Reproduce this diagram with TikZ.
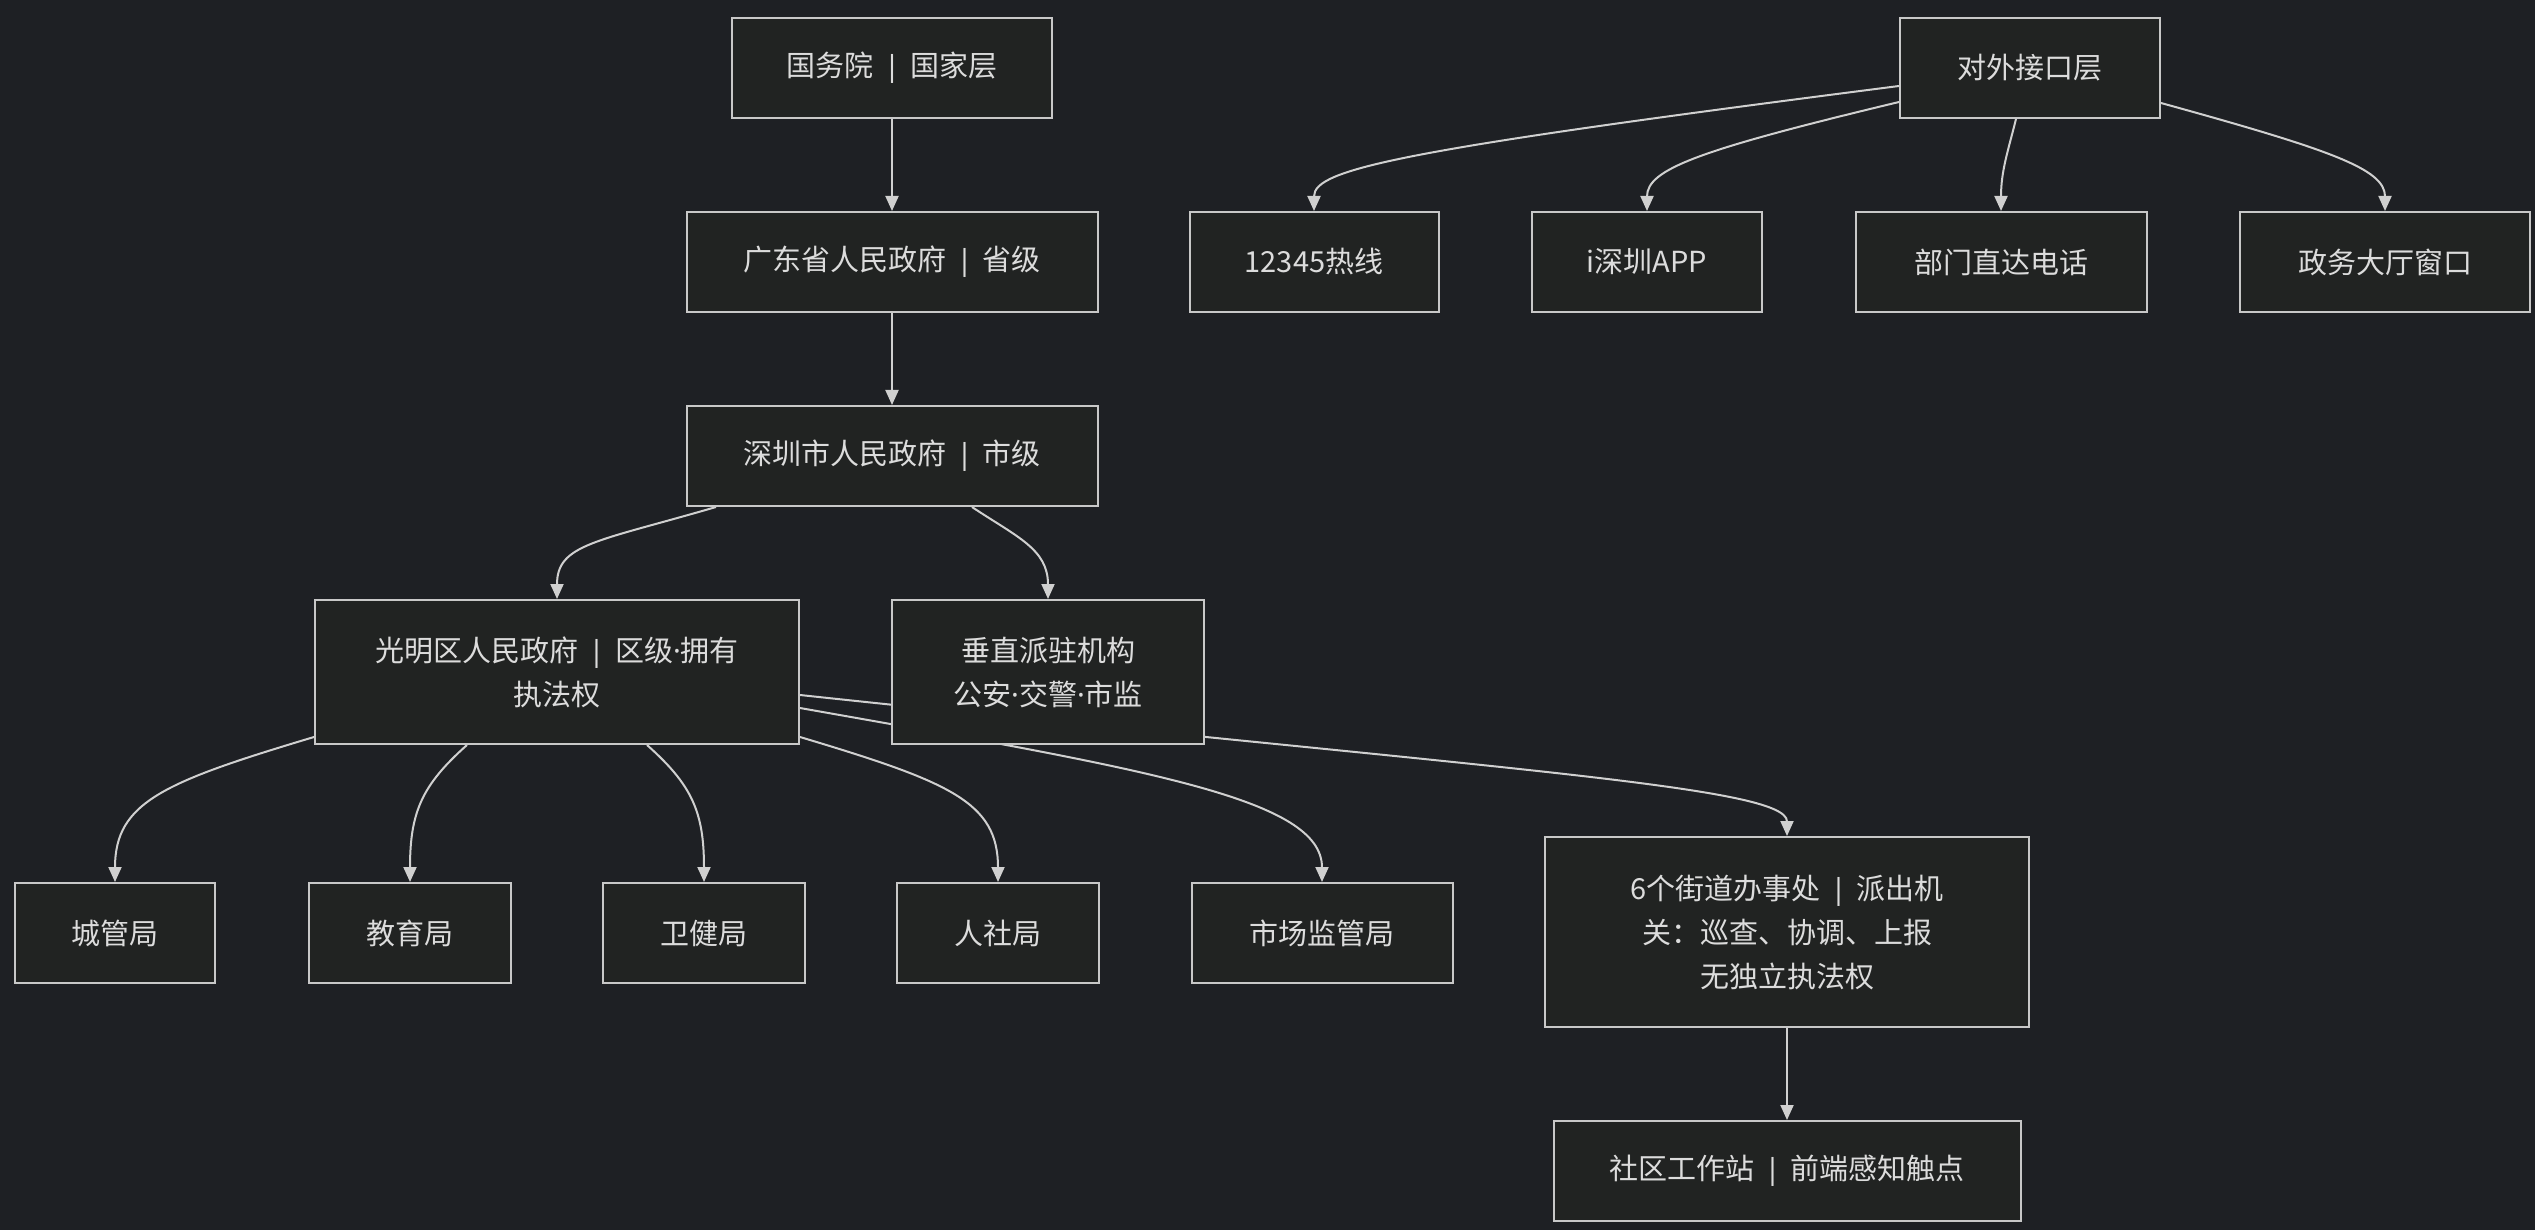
\documentclass[tikz,border=0pt]{standalone}
\usepackage{fontspec}
\usepackage{tikz}
\usetikzlibrary{arrows.meta}
\newfontfamily\cjk{Noto Sans CJK SC}
\newfontfamily\latinfont{Noto Sans}
\newcommand\mdot{{\latinfont ·}}
\newcommand\vsep{\hspace{.36em}{\latinfont|}\hspace{.36em}}
\definecolor{pagebg}{HTML}{1E2024}
\definecolor{boxfill}{HTML}{212322}
\definecolor{boxline}{HTML}{C8C8C8}
\definecolor{boxtext}{HTML}{DCDCDC}
\definecolor{linkgray}{HTML}{D0D0D0}
\pgfdeclarelayer{bg}
\pgfdeclarelayer{edges}
\pgfsetlayers{bg,edges,main}

\begin{document}
\begin{tikzpicture}[x=1pt,y=1pt]
\tikzstyle{every node}+=[inner sep=0pt]
\tikzstyle{box}=[draw=boxline, fill=boxfill, line width=2pt, text=boxtext, minimum height=100pt, align=center, font={\cjk\fontsize{29}{44}\selectfont}]
\tikzstyle{link}=[draw=linkgray, line width=2pt, -{Triangle[length=15pt,width=13pt]}]
\begin{pgfonlayer}{bg}
\fill [pagebg] (0,0) rectangle (2535,-1230);
\end{pgfonlayer}
\useasboundingbox (0,0) rectangle (2535,-1230);
% main chain
\node [box, minimum width=320pt] (guowu) at (892,-68) {国务院\vsep 国家层};
\node [box, minimum width=411pt] (guangdong) at (892,-262) {广东省人民政府\vsep 省级};
\node [box, minimum width=411pt] (shenzhen) at (892,-456) {深圳市人民政府\vsep 市级};
\node [box, minimum width=484pt, minimum height=144pt] (guangming) at (557,-672) {光明区人民政府\vsep 区级\mdot 拥有\\执法权};
\node [box, minimum width=312pt, minimum height=144pt] (chuizhi) at (1048,-672) {垂直派驻机构\\公安\mdot 交警\mdot 市监};
% bureaus
\node [box, minimum width=200pt] (chengguan) at (115,-933) {城管局};
\node [box, minimum width=202pt] (jiaoyu) at (410,-933) {教育局};
\node [box, minimum width=202pt] (weijian) at (704,-933) {卫健局};
\node [box, minimum width=202pt] (renshe) at (998,-933) {人社局};
\node [box, minimum width=261pt] (shichang) at (1322,-933) {市场监管局};
\node [box, minimum width=484pt, minimum height=190pt] (jiedao) at (1787,-932) {6个街道办事处\vsep 派出机\\关：巡查、协调、上报\\无独立执法权};
\node [box, minimum width=467pt] (shequ) at (1787,-1171) {社区工作站\vsep 前端感知触点};
% interface
\node [box, minimum width=260pt] (duiwai) at (2030,-68) {对外接口层};
\node [box, minimum width=249pt] (rexian) at (1314,-262) {12345热线};
\node [box, minimum width=230pt] (app) at (1647,-262) {i深圳APP};
\node [box, minimum width=291pt] (dianhua) at (2001,-262) {部门直达电话};
\node [box, minimum width=290pt] (chuangkou) at (2385,-262) {政务大厅窗口};
\begin{pgfonlayer}{edges}
\draw [link] (guowu) -- (guangdong);
\draw [link] (guangdong) -- (shenzhen);
\draw [link] ([xshift=-176pt]shenzhen.south) .. controls +(-120,-35) and +(0,55) .. (guangming.north);
\draw [link] ([xshift=80pt]shenzhen.south) .. controls +(45,-30) and +(0,50) .. (chuizhi.north);
\draw [link] ([yshift=-65pt]guangming.west) .. controls +(-150,-45) and +(0,80) .. (chengguan.north);
\draw [link] ([xshift=-90pt]guangming.south) .. controls +(-45,-40) and +(0,70) .. (jiaoyu.north);
\draw [link] ([xshift=90pt]guangming.south) .. controls +(45,-40) and +(0,70) .. (weijian.north);
\draw [link] ([yshift=-65pt]guangming.east) .. controls +(150,-45) and +(0,80) .. (renshe.north);
\draw [link] ([yshift=-36pt]guangming.east) .. controls +(351,-62) and +(0,83) .. (shichang.north);
\draw [link] ([yshift=-23pt]guangming.east) .. controls +(701,-75) and +(0,50) .. (jiedao.north);
\draw [link] (jiedao) -- (shequ);
\draw [link] ([yshift=-18pt]duiwai.west) .. controls +(-500,-64) and +(0,42) .. (rexian.north);
\draw [link] ([yshift=-34pt]duiwai.west) .. controls +(-200,-48) and +(0,42) .. (app.north);
\draw [link] ([xshift=-14pt]duiwai.south) .. controls +(-8,-32) and +(0,40) .. (dianhua.north);
\draw [link] ([yshift=-35pt]duiwai.east) .. controls +(170,-47) and +(0,42) .. (chuangkou.north);
\end{pgfonlayer}
\end{tikzpicture}
\end{document}
